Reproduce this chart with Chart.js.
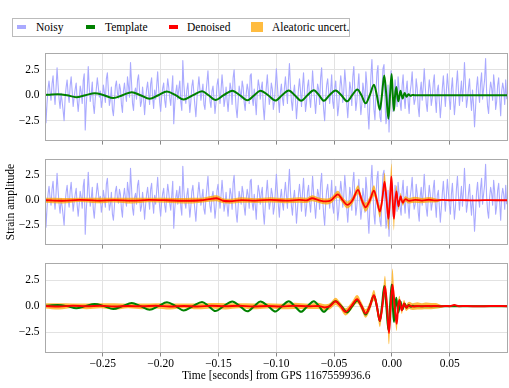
<!DOCTYPE html>
<html>
<head>
<meta charset="utf-8">
<script src="https://cdn.jsdelivr.net/npm/chart.js@4.4.1/dist/chart.umd.min.js"></script>
<style>
  html, body { margin: 0; padding: 0; background: #fff; }
  body { width: 509px; height: 388px; position: relative; overflow: hidden; font-family: 'Liberation Serif', serif; }
  canvas { position: absolute; left: 0; }
  #legend { position: absolute; left: 12px; top: 18px; width: 336px; height: 17px; border: 1px solid #bbb; font-size: 11.5px; color: #000; }
  #legend span { position: absolute; top: 0; line-height: 16px; white-space: nowrap; }
  #legend i { position: absolute; display: block; }
</style>
</head>
<body>
<div id="legend">
  <i style="left:4px;top:6px;width:9px;height:4px;background:#aaaaff"></i><span style="left:23px">Noisy</span>
  <i style="left:73px;top:6px;width:9px;height:4px;background:#008000"></i><span style="left:92px">Template</span>
  <i style="left:156px;top:6px;width:9px;height:4px;background:#ff0000"></i><span style="left:174px">Denoised</span>
  <i style="left:238px;top:3px;width:12px;height:10px;background:rgba(255,165,0,0.75)"></i><span style="left:259px">Aleatoric uncert.</span>
</div>
<canvas id="p1" width="509" height="106" style="top:44px"></canvas>
<canvas id="p2" width="509" height="104" style="top:150px"></canvas>
<canvas id="p3" width="509" height="134" style="top:254px"></canvas>
<script>
// 采样网格 (秒)
const tStart = -0.30;
const tStep = 0.00087;

// 含噪数据 (面板1和面板2相同)
const noisyY = [
  0.4, -2.7, -0.8, 0.6, 1.4, 0.3, -0.5, 1.1, 1.9, 0.2, -0.9, 0.7, 2.7, 1.0, -0.4, -1.3, 0.2, -0.6, -1.5, -2.5,
  -0.3, 0.8, 1.5, 0.1, -0.7, 0.9, 1.8, 0.4, -1.1, -0.2, 0.6, 1.2, -0.5, -1.6, -0.4, 0.9, 0.3, -0.8, 1.4, 2.1,
  -3.4, -1.0, 0.5, 2.8, 0.7, -0.6, 0.2, 1.3, -0.9, -1.8, -0.3, 0.6, 1.7, 0.8, -0.2, 0.4, -1.2, -0.5, 1.0, 0.3,
  -0.7, 1.6, 2.2, 0.5, -1.0, -0.4, 0.8, -1.4, -2.0, -0.6, 0.9, 1.4, 0.2, -0.3, 1.1, 0.6, -0.9, -1.7, 0.4, 1.2,
  0.1, -0.6, 1.8, 0.9, -0.2, 3.2, 1.3, -0.8, -1.5, 0.3, 0.7, -0.4, 1.5, 2.0, 0.4, -1.1, -0.6, 0.8, -0.3, -1.9,
  -0.5, 0.6, 1.3, 0.2, -0.9, 1.1, 1.7, -0.2, -1.3, 0.5, -0.4, 0.9, 2.3, 0.6, -0.7, -1.6, -0.1, 0.7, 1.2, -0.5,
  -1.2, 0.4, 1.6, 0.8, -0.3, -1.0, 0.5, 1.9, -2.8, -0.9, 0.3, 1.0, -0.4, 0.6, 1.4, -0.7, -1.5, 3.4, 1.1, -0.2,
  -0.8, 0.5, 1.2, -0.3, -1.7, -0.6, 0.9, 1.5, 0.2, -1.0, -2.1, -0.4, 0.7, 1.8, 0.6, -0.5, 0.3, 1.1, -0.9, -1.4,
  0.2, 1.3, 2.4, 0.5, -0.6, -1.2, 0.4, 0.9, -0.3, -1.8, -0.7, 1.0, 1.6, 0.3, -0.8, 0.5, 2.0, 0.7, -1.1, -0.4,
  0.8, -0.5, -1.6, -0.2, 1.2, 0.6, -0.9, 1.7, 2.5, 0.4, -1.3, -2.2, -0.6, 0.9, 0.3, -0.4, 1.4, 0.8, -0.7, -1.5,
  0.1, 1.1, 0.5, -0.8, 1.9, 2.1, -0.3, -1.0, 0.6, -0.5, -1.9, 0.2, 1.5, 0.9, -0.4, 0.7, 1.3, -1.2, -2.4, -0.6,
  0.8, 2.0, 0.4, -0.9, -0.2, 1.2, 0.6, -1.4, -0.7, 0.9, 2.6, 1.0, -0.5, -1.7, 0.3, 1.1, -0.3, -1.0, 0.7, 1.8,
  0.5, -0.8, 1.4, 3.1, 0.9, -0.6, -1.5, 0.2, 1.0, -0.4, -2.3, -0.9, 0.6, 1.6, 0.4, -1.1, 0.8, 2.2, 0.3, -1.6,
  -0.7, 0.9, 1.5, -0.2, -1.2, 0.4, 2.4, 0.8, -0.5, -1.8, -0.3, 1.1, 0.6, -0.9, 1.7, 2.7, 0.2, -1.4, -2.5, -0.4,
  1.0, 1.6, 0.3, -0.8, 0.5, 2.0, -0.6, -1.3, 0.7, 1.4, -0.2, -2.0, -1.1, 0.6, 1.9, 0.9, -0.7, 0.4, 2.5, 1.2,
  -0.9, -2.2, -0.4, 1.3, 0.6, -1.0, 1.8, 2.8, 0.5, -1.5, -0.6, 0.8, 2.1, -0.3, -1.9, -0.8, 1.2, 0.4, -1.2, 2.3,
  1.1, -1.7, -3.3, -0.6, 1.9, 3.5, 0.8, -1.4, -2.4, 0.3, 2.2, 2.9, -0.5, -2.1, -2.6, 0.6, 2.6, 3.0, -0.7, -2.8,
  -1.9, 1.0, -3.6, -0.4, 2.4, 1.3, -1.6, -0.9, 1.5, 0.4, -1.1, 1.8, 0.6, -0.7, -1.5, 0.9, 2.0, -0.2, -1.3, 0.5,
  1.4, -0.6, -1.8, 0.3, 1.1, 2.3, 0.2, -0.9, -0.4, 1.6, 0.7, -1.2, -2.1, 0.4, 1.3, -0.5, 0.8, 2.6, 0.9, -0.8,
  -1.6, 0.2, 1.5, 0.6, -1.0, -0.3, 1.2, 2.0, -0.4, -1.7, 0.5, 1.0, -0.6, -2.2, -0.8, 0.7, 1.9, 0.3, -1.1, 0.4,
  2.1, 0.8, -0.5, -1.4, 0.6, 1.7, -0.2, -1.9, -0.7, 1.1, 2.4, 0.5, -1.0, 0.3, 1.4, -0.6, 0.9, 3.2, 1.0, -1.2,
  -0.4, 0.7, 1.6, -0.3, -1.5, 0.5, -0.9, -3.1, -1.3, 0.8, 1.8, 0.2, -0.7, 1.2, 2.2, -0.4, 0.6, 1.5, 3.6, 0.4,
  -1.1, -1.8, 0.3, 1.3, 0.7, -0.5, 2.0, 0.9, -1.4, -0.6, 1.0, 1.7, -0.3, -2.0, 0.4, 1.2, 0.6, -0.9, 1.5, -0.4
];

// 模板波形: 峰、谷和过零点
const tplT = [
  -0.300, -0.294, -0.289, -0.281, -0.273, -0.265, -0.257, -0.249, -0.241, -0.233,
  -0.225, -0.2175, -0.2095, -0.202, -0.1945, -0.187, -0.180, -0.172, -0.1642, -0.1585,
  -0.1527, -0.1455, -0.138, -0.1315, -0.125, -0.119, -0.1137, -0.107, -0.1007, -0.095,
  -0.0892, -0.084, -0.0785, -0.073, -0.0675, -0.063, -0.0588, -0.054, -0.0487, -0.0437,
  -0.0386, -0.0343, -0.0299, -0.0263, -0.0227, -0.0191, -0.0155, -0.0130, -0.0104, -0.0086,
  -0.0066, -0.0048, -0.0030, -0.0016, -0.0002, 0.0008, 0.0018, 0.0028, 0.0038, 0.0047,
  0.0056, 0.0066, 0.0075, 0.0084, 0.0093, 0.0102, 0.0111, 0.0120, 0.0128, 0.0137,
  0.0145, 0.0154, 0.0163, 0.0172, 0.0180, 0.0195, 0.021, 0.03, 0.10
];
const tplY = [
  0.03, 0.08, 0.1, 0, -0.2, 0, 0.2, 0, -0.28, 0,
  0.3, 0, -0.35, 0, 0.37, 0, -0.42, 0, 0.4, 0,
  -0.47, 0, 0.45, 0, -0.5, 0, 0.45, 0, -0.52, 0,
  0.47, 0, -0.54, 0, 0.48, 0, -0.55, 0, 0.47, 0,
  -0.6, 0, 0.55, 0, -0.8, 0, 1.02, 0, -1.43, 0,
  1.93, 0, -2.31, 0, 2.08, 0, -1.52, 0, 0.8, 0,
  -0.6, 0, 0.45, 0, -0.32, 0, 0.22, 0, -0.15, 0,
  0.1, 0, -0.06, 0, 0.03, 0, 0, 0, 0
];

// 面板2: 从含噪数据去噪
const dn2T = [
  -0.300, -0.285, -0.270, -0.255, -0.240, -0.225, -0.210, -0.195, -0.180, -0.165,
  -0.158, -0.152, -0.146, -0.140, -0.130, -0.118, -0.105, -0.092, -0.080, -0.074,
  -0.069, -0.063, -0.057, -0.0525, -0.0467, -0.0425, -0.0386, -0.034, -0.0293, -0.026,
  -0.0227, -0.019, -0.0155, -0.013, -0.0104, -0.0084, -0.0063, -0.0046, -0.003, -0.0017,
  -0.0004, 0.0007, 0.0018, 0.0029, 0.004, 0.0049, 0.0058, 0.0067, 0.0076, 0.0085,
  0.0095, 0.0107, 0.012, 0.0135, 0.015, 0.02, 0.026, 0.032, 0.038, 0.044,
  0.05, 0.06, 0.07, 0.08, 0.09, 0.10
];
const dn2Y = [
  0.0, -0.05, 0.04, -0.03, 0.02, -0.04, 0.03, 0.0, -0.05, 0.0,
  0.12, 0.2, -0.05, -0.1, 0.02, -0.03, 0.04, -0.04, 0.03, -0.02,
  0.2, 0.0, -0.12, 0.0, 0.6, 0, -0.47, 0, 1.05, 0,
  -0.7, 0, 0.96, 0, -1.14, 0, 1.87, 0, -1.87, 0,
  2.4, 0, -1.87, 0, 0.9, 0, -0.6, 0, 0.4, 0,
  -0.25, 0, 0.12, 0, -0.05, 0.04, -0.03, 0.05, -0.02, 0.03,
  0.0, 0.02, -0.02, 0.01, 0.0, 0.0
];
const dn2S = [
  0.25, 0.28, 0.22, 0.27, 0.24, 0.29, 0.23, 0.26, 0.28, 0.24,
  0.27, 0.3, 0.26, 0.25, 0.28, 0.24, 0.27, 0.25, 0.28, 0.26,
  0.3, 0.27, 0.3, 0.3, 0.35, 0.32, 0.35, 0.35, 0.45, 0.4,
  0.45, 0.45, 0.55, 0.5, 0.6, 0.6, 0.9, 0.8, 1.1, 1.0,
  1.3, 1.0, 1.2, 0.7, 0.6, 0.45, 0.4, 0.35, 0.35, 0.3,
  0.3, 0.3, 0.28, 0.3, 0.27, 0.3, 0.26, 0.28, 0.2, 0.08,
  0.05, 0.04, 0.05, 0.04, 0.05, 0.04
];

// 面板3: 从模板去噪
const dn3T = [
  -0.300, -0.288, -0.276, -0.264, -0.252, -0.240, -0.228, -0.216, -0.204, -0.192,
  -0.180, -0.168, -0.156, -0.144, -0.132, -0.120, -0.108, -0.096, -0.084, -0.072,
  -0.064, -0.058, -0.0535, -0.0487, -0.0443, -0.04, -0.035, -0.03, -0.0263, -0.0227,
  -0.019, -0.0155, -0.013, -0.0104, -0.0082, -0.006, -0.0042, -0.0025, -0.001, 0.0005,
  0.0024, 0.0042, 0.0054, 0.0066, 0.0076, 0.0086, 0.0096, 0.0106, 0.0116, 0.0126,
  0.0138, 0.015, 0.0165, 0.018, 0.022, 0.026, 0.030, 0.034, 0.038, 0.042,
  0.046, 0.050, 0.054, 0.058, 0.065, 0.075, 0.085, 0.10
];
const dn3Y = [
  0.02, -0.03, 0.03, -0.02, 0.03, -0.03, 0.02, -0.02, 0.03, -0.03,
  0.02, -0.03, 0.03, -0.02, 0.03, -0.03, 0.02, -0.03, 0.03, -0.02,
  0.02, -0.12, 0, 0.46, 0, -0.55, 0, 0.67, 0, -0.7,
  0, 1.04, 0, -1.42, 0, 1.91, 0, -2.57, 0, 2.06,
  0, -1.7, 0, 0.6, 0, -0.4, 0, 0.25, 0, -0.15,
  0, 0.08, 0, -0.04, 0.02, -0.02, 0.02, -0.01, 0.02, -0.02,
  0.01, 0.0, 0.1, 0.0, 0.01, -0.01, 0.01, 0.0
];
const dn3S = [
  0.25, 0.3, 0.22, 0.28, 0.24, 0.3, 0.22, 0.27, 0.25, 0.29,
  0.23, 0.28, 0.26, 0.3, 0.24, 0.28, 0.25, 0.27, 0.3, 0.26,
  0.3, 0.3, 0.3, 0.35, 0.32, 0.35, 0.35, 0.4, 0.4, 0.42,
  0.45, 0.5, 0.5, 0.6, 0.6, 1.0, 0.9, 1.1, 1.0, 1.55,
  1.0, 0.7, 0.5, 0.4, 0.38, 0.35, 0.35, 0.33, 0.35, 0.32,
  0.35, 0.33, 0.35, 0.32, 0.35, 0.3, 0.33, 0.3, 0.28, 0.15,
  0.06, 0.05, 0.06, 0.05, 0.05, 0.05, 0.05, 0.05
];

// 刻度
const xTicks = [-0.25, -0.20, -0.15, -0.10, -0.05, 0.00, 0.05];
const yTicks = [-2.5, 0.0, 2.5];
const xMin = -0.30, xMax = 0.10;
const yMin = -4.5, yMax = 4.15;

const NOISY = '#aaaaff';
const TEMPLATE = '#008000';
const DENOISED = '#ff0000';
const BAND = 'rgba(255,165,0,0.75)';
const SERIF = "'Liberation Serif', 'Times New Roman', serif";

Chart.defaults.font.family = SERIF;
Chart.defaults.font.size = 11;
Chart.defaults.color = '#000';

function pts(ts, ys) {
    return ts.map((t, i) => ({ x: t, y: ys[i] }));
}
const noisyPts = noisyY.map((v, i) => ({ x: tStart + i * tStep, y: v }));

function minus(s) {
    return s.replace('-', '\u2212');
}

// 面板边框
const framePlugin = {
    id: 'frame',
    afterDatasetsDraw(chart) {
        const { ctx, chartArea: a } = chart;
        ctx.save();
        ctx.strokeStyle = '#aaaaaa';
        ctx.lineWidth = 1;
        const l = Math.round(a.left) + 0.5, t = Math.round(a.top) + 0.5;
        ctx.strokeRect(l, t, Math.round(a.right) - l - 0.5, Math.round(a.bottom) - t - 0.5);
        ctx.restore();
    }
};

function makeScales(showX, yTitle) {
    return {
        x: {
            type: 'linear', min: xMin, max: xMax,
            afterBuildTicks: s => { s.ticks = xTicks.map(v => ({ value: v })); },
            ticks: { display: showX, padding: 1, maxRotation: 0, autoSkip: false,
                     font: { family: SERIF, size: 11.5 },
                     callback: v => minus(v.toFixed(2)) },
            grid: { color: '#e2e2e2', tickColor: '#888', tickLength: 3.5 },
            border: { display: false },
            title: { display: showX, text: 'Time [seconds] from GPS 1167559936.6',
                     font: { family: SERIF, size: 11.5 }, padding: { top: 0, bottom: 5 } },
            afterFit: s => { s.height = showX ? 35 : 4; }
        },
        y: {
            min: yMin, max: yMax,
            afterBuildTicks: s => { s.ticks = yTicks.map(v => ({ value: v })); },
            ticks: { padding: 2, font: { family: SERIF, size: 11.5 },
                     callback: v => minus(v.toFixed(1)) },
            grid: { color: '#e2e2e2', tickColor: 'rgba(0,0,0,0)', tickLength: 3.5 },
            border: { display: false },
            title: { display: !!yTitle, text: yTitle || '', font: { family: SERIF, size: 11.5 },
                     padding: { top: 4, bottom: 0 } },
            afterFit: s => { s.width = 45; }
        }
    };
}

function lineSet(data, color, width, order, extra) {
    return Object.assign({
        data: data, borderColor: color, borderWidth: width, pointRadius: 0,
        fill: false, order: order, borderJoinStyle: 'round'
    }, extra || {});
}

function bandSets(ts, ys, ss, order) {
    const upper = ts.map((t, i) => ({ x: t, y: ys[i] + ss[i] }));
    const lower = ts.map((t, i) => ({ x: t, y: ys[i] - ss[i] }));
    return [
        { data: upper, borderColor: 'rgba(0,0,0,0)', borderWidth: 0, pointRadius: 0,
          backgroundColor: BAND, fill: '+1', order: order, cubicInterpolationMode: 'monotone' },
        { data: lower, borderColor: 'rgba(0,0,0,0)', borderWidth: 0, pointRadius: 0,
          fill: false, order: order, cubicInterpolationMode: 'monotone' }
    ];
}

function makeChart(id, datasets, showX, yTitle, padTop) {
    return new Chart(document.getElementById(id), {
        type: 'line',
        data: { datasets: datasets },
        options: {
            responsive: false,
            animation: false,
            layout: { padding: { top: padTop, right: 1.5, bottom: 0, left: 0 } },
            plugins: { legend: { display: false }, tooltip: { enabled: false } },
            scales: makeScales(showX, yTitle)
        },
        plugins: [framePlugin]
    });
}

// 面板1: 含噪 + 模板
makeChart('p1', [
    lineSet(noisyPts, NOISY, 1.1, 2),
    lineSet(pts(tplT, tplY), TEMPLATE, 2, 1, { cubicInterpolationMode: 'monotone' })
], false, null, 3);

// 面板2: 含噪 + 去噪 + 不确定度
makeChart('p2', [
    lineSet(noisyPts, NOISY, 1.1, 4),
    ...bandSets(dn2T, dn2Y, dn2S, 3),
    lineSet(pts(dn2T, dn2Y), DENOISED, 1.8, 1, { cubicInterpolationMode: 'monotone' })
], false, 'Strain amplitude', 2);

// 面板3: 模板 + 去噪 + 不确定度
makeChart('p3', [
    ...bandSets(dn3T, dn3Y, dn3S, 4),
    lineSet(pts(tplT, tplY), TEMPLATE, 2, 2, { cubicInterpolationMode: 'monotone' }),
    lineSet(pts(dn3T, dn3Y), DENOISED, 2, 1, { cubicInterpolationMode: 'monotone' })
], true, null, 2);
</script>
</body>
</html>
